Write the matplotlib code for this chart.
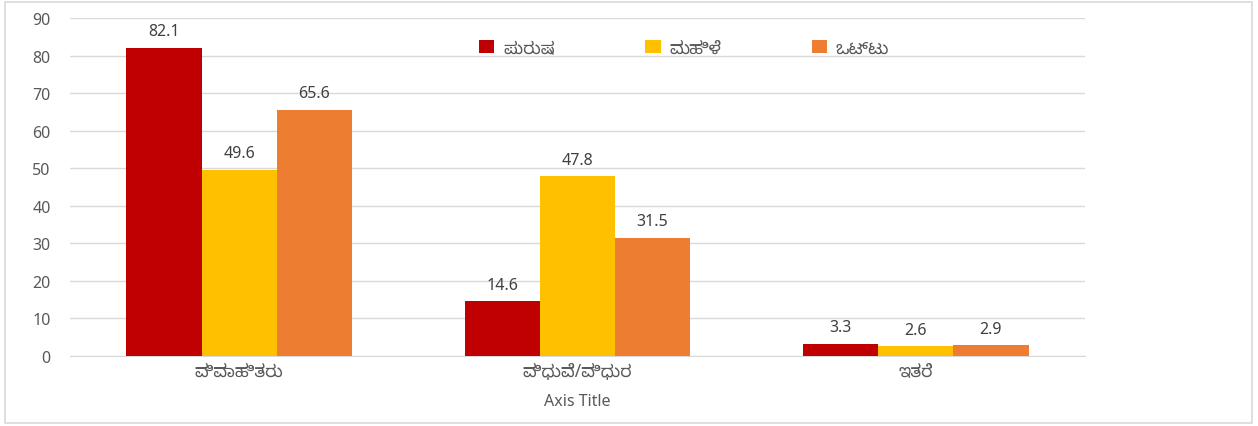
import numpy as np
import matplotlib; matplotlib.use('Agg')
import matplotlib.pyplot as plt
from matplotlib.patches import Rectangle

categories = ['ವಿವಾಹಿತರು', 'ವಿಧುವೆ/ವಿಧುರ', 'ಇತರೆ']
series_names = ['ಪುರುಷ', 'ಮಹಿಳೆ', 'ಒಟ್ಟು']
male   = [82.1, 14.6, 3.3]
female = [49.6, 47.8, 2.6]
total  = [65.6, 31.5, 2.9]
colors = ['#c00000', '#ffc000', '#ed7d31']

plt.rcParams['font.family'] = ['Noto Sans', 'Noto Sans Kannada', 'DejaVu Sans']
txt = '#595959'

fig = plt.figure(figsize=(12.58, 4.27), dpi=100)
ax = fig.add_axes([0.0556, 0.164, 0.8069, 0.7915])

x = np.arange(len(categories))
w = 0.222
for i, (vals, name, c) in enumerate(zip([male, female, total], series_names, colors)):
    bars = ax.bar(x + (i - 1) * w, vals, w, color=c, label=name, zorder=3)
    for b, v in zip(bars, vals):
        ax.annotate(f'{v}', (b.get_x() + b.get_width() / 2, v), xytext=(0, 6),
                    textcoords='offset points', ha='center', va='bottom',
                    fontsize=11.5, color='#404040')

ax.set_xlim(-0.5, 2.5)
ax.set_ylim(0, 90)
ax.set_yticks(range(0, 91, 10))
ax.grid(axis='y', color='#d9d9d9', lw=1, zorder=0)
for s in ['top', 'right', 'left']:
    ax.spines[s].set_visible(False)
ax.spines['bottom'].set_color('#d9d9d9')
ax.tick_params(axis='y', length=0, pad=14, labelsize=11.5, labelcolor=txt)
ax.tick_params(axis='x', length=0, pad=4, labelsize=12.5, labelcolor=txt)
ax.set_xticks(x)
ax.set_xticklabels(categories)
ax.set_xlabel('Axis Title', fontsize=11.5, color=txt, labelpad=10)

ax.legend(loc='upper center', bbox_to_anchor=(0.605, 0.985), ncol=3, frameon=False,
          fontsize=12.5, labelcolor=txt, handlelength=0.9, handleheight=0.8,
          columnspacing=5.2, handletextpad=0.5)

fig.patches.append(Rectangle((0.004, 0.006), 0.991, 0.988, transform=fig.transFigure,
                             fill=False, edgecolor='#d9d9d9', lw=1.2))

plt.savefig('out.png', dpi=100)
plt.close()
